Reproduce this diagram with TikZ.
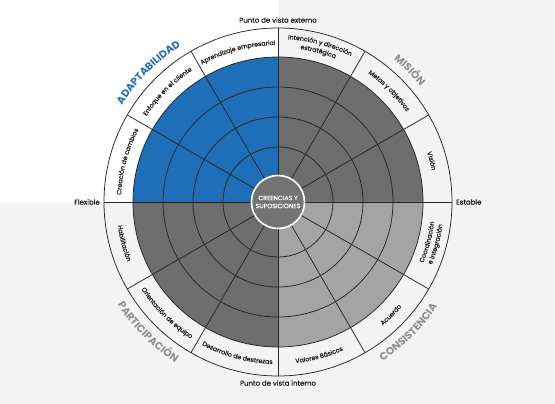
\documentclass[tikz,border=0pt]{standalone}
\usepackage{fontspec}
\setmainfont{Poppins}
\newfontfamily\medface[FakeBold=0.5]{Poppins}
\usepackage{tikz}
\usetikzlibrary{decorations.text}
\definecolor{CultureBlue}{HTML}{1F6FB8}
\definecolor{CultureDark}{HTML}{6E6E6E}
\definecolor{CultureLight}{HTML}{A4A4A4}
\definecolor{CultureLine}{HTML}{262626}
\definecolor{CulturePaper}{HTML}{F3F3F3}
\definecolor{CultureMuted}{HTML}{8E8E8E}
\definecolor{CultureCore}{HTML}{747474}
\definecolor{CultureInk}{HTML}{1A1A1A}
\newcommand{\ringfont}{\medface\fontsize{6.3}{7}\selectfont}
\newcommand{\bigfont}{\fontsize{10.4}{12}\selectfont\bfseries}
% text along an arc, read clockwise (upper half)
\newcommand{\arccw}[4]{%
  \path[decorate,decoration={text along path,text align=center,
      text color=#4,text={#3}}]
    (#1+40:#2pt) arc[start angle=#1+40,end angle=#1-40,radius=#2pt];}
% text along an arc, read counter-clockwise (lower half)
\newcommand{\arcccw}[4]{%
  \path[decorate,decoration={text along path,text align=center,
      text color=#4,text={#3}}]
    (#1-40:#2pt) arc[start angle=#1-40,end angle=#1+40,radius=#2pt];}

\begin{document}
\begin{tikzpicture}[x=1pt,y=1pt,
    spoke/.style={CultureLine,line width=0.75pt},
    axislabel/.style={font=\medface\fontsize{7}{8}\selectfont,text=CultureInk,inner sep=1pt}]
  \useasboundingbox (-278,-202) rectangle (277,202);
  \fill[CulturePaper] (-278,-202) rectangle (277,202);
  \fill[white] (-278,0) rectangle (0,202);
  % quadrants
  \fill[CultureDark] (0,0) -- (0:145pt) arc[start angle=0,end angle=90,radius=145pt] -- cycle;
  \fill[CultureBlue] (0,0) -- (90:145pt) arc[start angle=90,end angle=180,radius=145pt] -- cycle;
  \fill[CultureDark] (0,0) -- (180:145pt) arc[start angle=180,end angle=270,radius=145pt] -- cycle;
  \fill[CultureLight] (0,0) -- (270:145pt) arc[start angle=270,end angle=360,radius=145pt] -- cycle;
  \foreach \r in {55,85,115,145,174}
    \draw[spoke] (0,0) circle (\r pt);
  \foreach \a in {0,30,...,330}
    \draw[spoke] (\a:25pt) -- (\a:174pt);
  \fill[CultureCore,draw=white,line width=1.6pt] (0,0) circle (26.5pt);
  \node[text=white,align=center,font=\medface\fontsize{6.3}{8}\selectfont] (core) at (0,0) {CREENCIAS Y\\SUPOSICIONES};

  % axis labels
  \node[axislabel] (externo) at (0,182) {Punto de vista externo};
  \node[axislabel] (interno) at (0,-181) {Punto de vista interno};
  \node[axislabel,anchor=east] (flexible) at (-177,0) {Flexible};
  \node[axislabel,anchor=west] (estable) at (177,0) {Estable};

  % ring labels
  \arccw{105}{157}{|\ringfont|Aprendizaje empresarial}{CultureInk}
  \arccw{75}{163}{|\ringfont|Intención y dirección}{CultureInk}
  \arccw{75}{154.5}{|\ringfont|estratégica}{CultureInk}
  \arccw{45}{157}{|\ringfont|Metas y objetivos}{CultureInk}
  \arccw{15}{157}{|\ringfont|Visión}{CultureInk}
  \arccw{165}{157}{|\ringfont|Creación de cambios}{CultureInk}
  \arccw{135}{157}{|\ringfont|Enfoque en el cliente}{CultureInk}
  \arcccw{-15}{157.5}{|\ringfont|Coordinación}{CultureInk}
  \arcccw{-15}{166}{|\ringfont|e integración}{CultureInk}
  \arcccw{-45}{162}{|\ringfont|Acuerdo}{CultureInk}
  \arcccw{-75}{162}{|\ringfont|Valores Básicos}{CultureInk}
  \arcccw{-105}{162}{|\ringfont|Desarrollo de destrezas}{CultureInk}
  \arcccw{-135}{162}{|\ringfont|Orientación de equipo}{CultureInk}
  \arcccw{-165}{162}{|\ringfont|Habilitación}{CultureInk}

  % quadrant titles
  \arccw{135}{183.5}{|\bigfont|ADAPTABILIDAD}{CultureBlue}
  \arccw{45}{183.5}{|\bigfont|MISIÓN}{CultureMuted}
  \arcccw{-135}{190.5}{|\bigfont|PARTICIPACIÓN}{CultureMuted}
  \arcccw{-45}{190.5}{|\bigfont|CONSISTENCIA}{CultureMuted}
\end{tikzpicture}
\end{document}
